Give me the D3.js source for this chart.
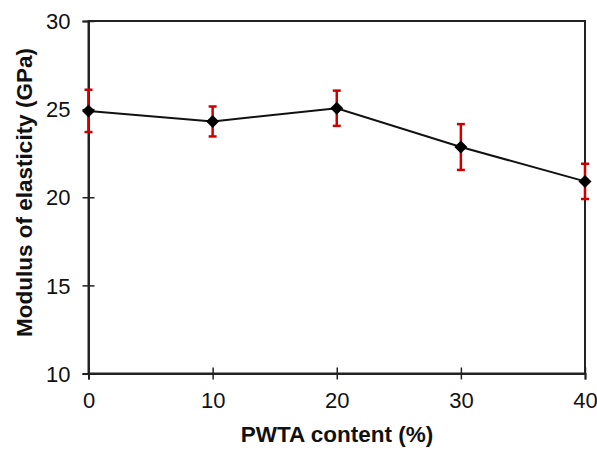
<!DOCTYPE html>
<html>
<head>
<meta charset="utf-8">
<script src="https://cdn.jsdelivr.net/npm/d3@7/dist/d3.min.js"></script>
<style>
  html, body { margin: 0; padding: 0; background: #fff; }
  svg { display: block; font-family: "Liberation Sans", Arial, sans-serif; }
</style>
</head>
<body>
<svg id="chart" width="597" height="450"></svg>
<script>
// PWTA content (%) and measured modulus of elasticity (GPa) with error
const content = [0, 10, 20, 30, 40];
const modulus = [24.9, 24.3, 25.05, 22.85, 20.9];
const errorBar = [1.2, 0.85, 1.0, 1.3, 1.0];
const xTicks = [0, 10, 20, 30, 40];
const yTicks = [10, 15, 20, 25, 30];

const svg = d3.select("#chart");
const margin = { left: 88.5, right: 12, top: 21, bottom: 76.5 };
const W = 597, H = 450;

const x = d3.scaleLinear().domain([0, 40]).range([margin.left, W - margin.right]);
const y = d3.scaleLinear().domain([10, 30]).range([H - margin.bottom, margin.top]);

// Frame
svg.append("rect")
  .attr("x", x(0)).attr("y", y(30))
  .attr("width", x(40) - x(0)).attr("height", y(10) - y(30))
  .attr("fill", "none").attr("stroke", "#222").attr("stroke-width", 2);

// Axes with ticks crossing the axis line
const xAxis = svg.append("g")
  .attr("transform", `translate(0,${y(10)})`)
  .call(d3.axisBottom(x).tickValues(xTicks).tickSize(6).tickFormat(d3.format("d")));
xAxis.selectAll(".tick line").attr("y1", -6).attr("y2", 6);
const yAxis = svg.append("g")
  .attr("transform", `translate(${x(0)},0)`)
  .call(d3.axisLeft(y).tickValues(yTicks).tickSize(6).tickFormat(d3.format("d")));
yAxis.selectAll(".tick line").attr("x1", -6).attr("x2", 6);

[xAxis, yAxis].forEach(g => {
  g.select(".domain").attr("stroke", "#222").attr("stroke-width", 2);
  g.selectAll(".tick line").attr("stroke", "#222").attr("stroke-width", 1.5);
  g.selectAll(".tick text")
    .attr("fill", "#111")
    .style("font-size", "22px")
    .style("font-family", "'Liberation Sans', Arial, sans-serif");
});
xAxis.selectAll(".tick text").attr("y", 18.4).attr("dy", "0.71em");
yAxis.selectAll(".tick text").attr("x", -18).attr("dy", "0.35em");

// Axis titles
svg.append("text")
  .attr("x", 337).attr("y", 441.5)
  .attr("text-anchor", "middle")
  .style("font-size", "22.5px").style("font-weight", "bold")
  .attr("fill", "#111")
  .text("PWTA content (%)");
svg.append("text")
  .attr("transform", `translate(31.5,192.5) rotate(-90)`)
  .attr("text-anchor", "middle")
  .style("font-size", "22.5px").style("font-weight", "bold")
  .attr("fill", "#111")
  .text("Modulus of elasticity (GPa)");

const pts = content.map((c, i) => ({ c, v: modulus[i], e: errorBar[i] }));

// Connecting line
svg.append("path")
  .datum(pts)
  .attr("fill", "none").attr("stroke", "#111").attr("stroke-width", 2)
  .attr("d", d3.line().x(d => x(d.c)).y(d => y(d.v)));

// Error bars
const capW = 4;
const eb = svg.append("g").attr("stroke", "#cc0000").attr("stroke-width", 2.5);
pts.forEach(d => {
  const cx = x(d.c);
  eb.append("line").attr("x1", cx).attr("x2", cx).attr("y1", y(d.v + d.e)).attr("y2", y(d.v - d.e));
  eb.append("line").attr("x1", cx - capW).attr("x2", cx + capW).attr("y1", y(d.v + d.e)).attr("y2", y(d.v + d.e));
  eb.append("line").attr("x1", cx - capW).attr("x2", cx + capW).attr("y1", y(d.v - d.e)).attr("y2", y(d.v - d.e));
});

// Diamond markers
svg.append("g").selectAll("path")
  .data(pts).join("path")
  .attr("transform", d => `translate(${x(d.c)},${y(d.v)})`)
  .attr("d", "M0,-6.5L6.5,0L0,6.5L-6.5,0Z")
  .attr("fill", "#000");
</script>
</body>
</html>
